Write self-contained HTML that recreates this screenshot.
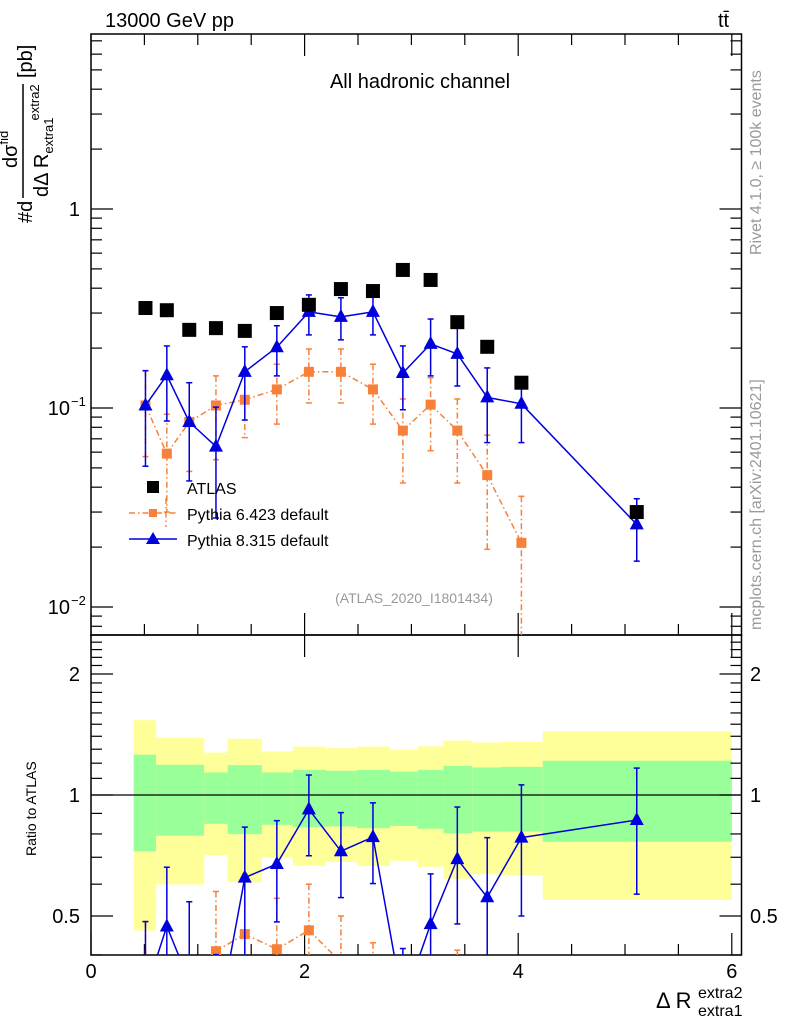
<!DOCTYPE html>
<html><head><meta charset="utf-8"><style>
html,body{margin:0;padding:0;background:#fff;width:786px;height:1024px;overflow:hidden}
svg{display:block;font-family:"Liberation Sans",sans-serif}
</style></head><body>
<svg id="chart" width="786" height="1024" viewBox="0 0 786 1024" xmlns="http://www.w3.org/2000/svg" overflow="hidden">
<g id="bands"></g>
<g id="axes"></g>
<g id="series"></g>
<text x="105" y="27" font-size="20">13000 GeV pp</text>
<text x="718" y="27" font-size="20">tt̄</text>
<text x="420" y="88" font-size="20" text-anchor="middle">All hadronic channel</text>
<text x="414" y="603" font-size="14" fill="#999" text-anchor="middle">(ATLAS_2020_I1801434)</text>
<text transform="translate(761,255) rotate(-90)" font-size="16" fill="#999">Rivet 4.1.0, ≥ 100k events</text>
<text transform="translate(761,630) rotate(-90)" font-size="16" fill="#999">mcplots.cern.ch [arXiv:2401.10621]</text>
<g transform="rotate(-90)" font-size="20">
<text x="-223" y="32">#d</text>
<line x1="-198" y1="23" x2="-84" y2="23" stroke="#000" stroke-width="1.5"/>
<text x="-168" y="17">dσ<tspan font-size="13" dy="-9">fid</tspan></text>
<text x="-197" y="48">dΔ R<tspan font-size="13" dy="5">extra1</tspan><tspan font-size="13" dy="-14" dx="-3">extra2</tspan></text>
<text x="-78" y="32">[pb]</text>
</g>
<text transform="translate(36,856) rotate(-90)" font-size="14">Ratio to ATLAS</text>
<g>
<text x="656" y="1008" font-size="22">Δ R</text>
<text x="698" y="998" font-size="16">extra2</text>
<text x="698" y="1016" font-size="16">extra1</text>
</g>
<g>
<g><rect x="147" y="481" width="12" height="12" fill="#000"/><text x="187" y="494" font-size="16">ATLAS</text></g>
<g><line x1="129" y1="513" x2="177" y2="513" stroke="#f7803a" stroke-width="1.5" stroke-dasharray="6,3,1.5,3"/><line x1="166" y1="498" x2="166" y2="527" stroke="#f7803a" stroke-width="1.5" stroke-dasharray="6,3,1.5,3"/><rect x="149" y="509" width="8" height="8" fill="#f7803a"/><text x="187" y="520" font-size="16">Pythia 6.423 default</text></g>
<g><line x1="129" y1="539" x2="177" y2="539" stroke="#0000dd" stroke-width="1.5"/><polygon points="153,532 160,544 146,544" fill="#0000dd"/><text x="187" y="546" font-size="16">Pythia 8.315 default</text></g>
</g>
</svg>
<script>
const xs = [0.51,0.71,0.92,1.17,1.44,1.74,2.04,2.34,2.64,2.92,3.18,3.43,3.71,4.03,5.11];
const atlas = [0.318,0.31,0.247,0.252,0.244,0.30,0.33,0.396,0.387,0.494,0.44,0.27,0.203,0.134,0.030];
const py8 = [0.103,0.146,0.085,0.064,0.152,0.202,0.304,0.287,0.304,0.15,0.21,0.187,0.113,0.105,0.026];
const py8Hi = [0.154,0.205,0.134,0.101,0.203,0.259,0.37,0.358,0.37,0.205,0.28,0.252,0.159,0.142,0.035];
const py8Lo = [0.051,0.086,0.043,0.028,0.087,0.145,0.233,0.22,0.233,0.098,0.145,0.129,0.067,0.067,0.017];
const py6 = [0.103,0.059,0.085,0.103,0.11,0.124,0.152,0.152,0.124,0.077,0.104,0.077,0.046,0.021];
const py6Hi = [0.154,0.093,0.134,0.145,0.155,0.166,0.198,0.198,0.166,0.111,0.142,0.111,0.073,0.036];
const py6Lo = [0.057,0.03,0.048,0.055,0.071,0.083,0.106,0.106,0.083,0.042,0.061,0.042,0.0195,0.001];
const binEdges = [0.40,0.61,1.06,1.28,1.60,1.89,2.20,2.49,2.80,3.06,3.30,3.57,3.84,4.23,6.0];
const yelHi = [1.535,1.388,1.275,1.38,1.284,1.32,1.308,1.32,1.297,1.322,1.366,1.351,1.357,1.44];
const yelLo = [0.46,0.599,0.709,0.607,0.699,0.668,0.681,0.666,0.686,0.663,0.619,0.635,0.631,0.548];
const grnHi = [1.26,1.189,1.138,1.187,1.138,1.155,1.149,1.155,1.144,1.155,1.182,1.171,1.175,1.217];
const grnLo = [0.724,0.792,0.848,0.799,0.843,0.832,0.835,0.827,0.838,0.824,0.803,0.811,0.811,0.765];
const xTicks = [0,2,4,6];
const ratioTicks = [0.5,1,2];

const NS="http://www.w3.org/2000/svg";
const L=91,R=741.5,T=34,MB=635,RB=955;
const X=v=>91+v*106.8;
const Y=v=>209-199*Math.log10(v);
const RY=v=>795-121*Math.log2(v);
function mk(parent,tag,attrs){const e=document.createElementNS(NS,tag);for(const k in attrs)e.setAttribute(k,attrs[k]);document.getElementById(parent).appendChild(e);return e;}

for(let i=0;i<yelHi.length;i++){
  const x1=X(binEdges[i]),x2=X(binEdges[i+1]);
  let e=mk('bands','rect',{x:x1,y:RY(yelHi[i]),width:x2-x1,height:RY(yelLo[i])-RY(yelHi[i]),fill:'#ffff99'});
  
  
  e=mk('bands','rect',{x:x1,y:RY(grnHi[i]),width:x2-x1,height:RY(grnLo[i])-RY(grnHi[i]),fill:'#99ff99'});
  
  
}
let f=mk('axes','rect',{x:L,y:T,width:R-L,height:MB-T,fill:'none',stroke:'#000','stroke-width':1.5});


f=mk('axes','rect',{x:L,y:MB,width:R-L,height:RB-MB,fill:'none',stroke:'#000','stroke-width':1.5});


let ref=mk('axes','line',{x1:L,x2:R,y1:RY(1),y2:RY(1),stroke:'#000','stroke-width':1.2});


function tick(x1,y1,x2,y2){mk('axes','line',{x1,y1,x2,y2,stroke:'#000','stroke-width':1.2});}
for(let d=-3;d<=1;d++)for(let m=1;m<10;m++){const v=m*Math.pow(10,d);const y=Y(v);if(y<T||y>MB)continue;const len=m===1?22:11;tick(L,y,L+len,y);tick(R,y,R-len,y);}
[[1,'1'],[0.1,'10'],[0.01,'10']].forEach(([v,t],i)=>{const e=mk('axes','text',{x:80,y:Y(v)+7,'font-size':20,'text-anchor':'end'});e.textContent=t;if(i>0){e.setAttribute('x',70);const s=mk('axes','text',{x:71,y:Y(v)-2,'font-size':13});s.textContent=i===1?'−1':'−2';}});
for(let v=0;v<=6.01;v+=0.5){const x=X(v);const major=Math.abs(v%2)<0.01;const len=major?22:11;tick(x,MB,x,MB-len);tick(x,RB,x,RB-len);tick(x,T,x,T+len);if(major){tick(x,MB,x,MB+len);}}
xTicks.forEach(v=>{const e=mk('axes','text',{x:X(v),y:978,'font-size':20,'text-anchor':'middle'});e.textContent=String(v);});
for(let v=0.4;v<=2.5;v+=0.1){const y=RY(v);if(y<MB||y>RB)continue;const major=ratioTicks.some(t=>Math.abs(t-v)<1e-6);const len=major?22:11;tick(L,y,L+len,y);tick(R,y,R-len,y);}
ratioTicks.forEach(v=>{let e=mk('axes','text',{x:80,y:RY(v)+7,'font-size':20,'text-anchor':'end'});e.textContent=String(v);e=mk('axes','text',{x:750,y:RY(v)+7,'font-size':20});e.textContent=String(v);});

// clip a segment to a vertical range [y0,y1]; returns null if invisible
function clipSeg(ax,ay,bx,by,y0,y1){
  let t0=0,t1=1;const dy=by-ay;
  const p=[-dy,dy],q=[ay-y0,y1-ay];
  for(let k=0;k<2;k++){
    if(p[k]===0){if(q[k]<0)return null;}
    else{const r=q[k]/p[k];if(p[k]<0){if(r>t1)return null;if(r>t0)t0=r;}else{if(r<t0)return null;if(r<t1)t1=r;}}
  }
  return [ax+t0*(bx-ax),ay+t0*dy,ax+t1*(bx-ax),ay+t1*dy];
}

function drawSeries(vals,hi,lo,yf,y0,y1,color,dash,marker,name,den){
  const g=mk('series','g',{});
  
  
  const add=(t,at)=>{const e=document.createElementNS(NS,t);for(const k in at)e.setAttribute(k,at[k]);g.appendChild(e);return e;};
  const P=vals.map((v,i)=>[X(xs[i]),yf(v/(den?den[i]:1))]);
  let d='';
  for(let i=0;i+1<P.length;i++){
    const s=clipSeg(P[i][0],P[i][1],P[i+1][0],P[i+1][1],y0,y1);
    if(s)d+=`M${s[0].toFixed(1)},${s[1].toFixed(1)}L${s[2].toFixed(1)},${s[3].toFixed(1)}`;
  }
  const pa={d:d,fill:'none',stroke:color,'stroke-width':1.5};if(dash)pa['stroke-dasharray']=dash;
  add('path',pa);
  vals.forEach((v,i)=>{
    const dd=den?den[i]:1;const x=X(xs[i]);
    const yh=yf(hi[i]/dd),yl=yf(lo[i]/dd),y=yf(v/dd);
    const a=Math.max(yh,y0),b=Math.min(yl,y1);
    if(b>a){
      const la={x1:x,x2:x,y1:a,y2:b,stroke:color,'stroke-width':1.5};if(dash)la['stroke-dasharray']=dash;add('line',la);
    }
    if(yh>=y0&&yh<=y1)add('line',{x1:x-3,x2:x+3,y1:yh,y2:yh,stroke:color,'stroke-width':1.5});
    if(yl>=y0&&yl<=y1)add('line',{x1:x-3,x2:x+3,y1:yl,y2:yl,stroke:color,'stroke-width':1.5});
    if(y<y0-8||y>y1+8)return;
    const clipId=name+'-clip';
    let m;
    if(marker==='tri'){m=add('polygon',{points:`${x},${Math.max(y-8,y0)} ${x+7},${Math.min(y+5,y1)} ${x-7},${Math.min(y+5,y1)}`,fill:color});}
    else{const top=Math.max(y-5,y0),bot=Math.min(y+5,y1);if(bot<=top)return;m=add('rect',{x:x-5,y:top,width:10,height:bot-top,fill:color});}
    
    
  });
}
drawSeries(py6,py6Hi,py6Lo,Y,T,MB,'#f7803a','6,3,1.5,3','sq','pythia6-main');
drawSeries(py8,py8Hi,py8Lo,Y,T,MB,'#0000dd',null,'tri','pythia8-main');
atlas.forEach((v,i)=>{const e=mk('series','rect',{x:X(xs[i])-7,y:Y(v)-7,width:14,height:14,fill:'#000'});});
drawSeries(py6,py6Hi,py6Lo,RY,MB,RB,'#f7803a','6,3,1.5,3','sq','pythia6-ratio',atlas);
drawSeries(py8,py8Hi,py8Lo,RY,MB,RB,'#0000dd',null,'tri','pythia8-ratio',atlas);
</script>
</body></html>
